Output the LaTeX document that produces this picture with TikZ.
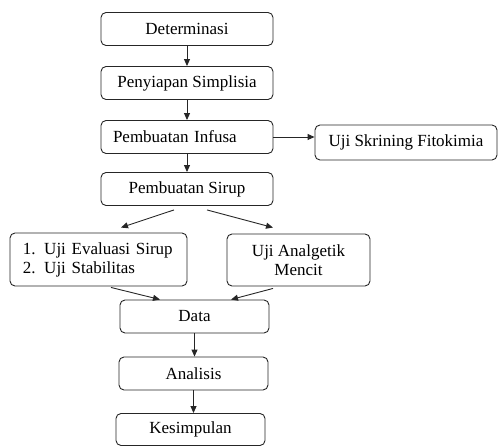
\documentclass[tikz,border=0pt]{standalone}
\usepackage{fontspec}
\setmainfont{Liberation Serif}
\usetikzlibrary{arrows.meta, positioning}
\tikzset{
    x=1pt, y=-1pt, % pixel-like units, y grows downwards
    box/.style={draw=black!85, line width=0.9pt, rounded corners=5pt, inner sep=0pt,
        minimum height=33pt, font=\fontsize{17}{19}\selectfont}, % every process box
    arr/.style={-{Triangle[length=7pt,width=6pt]}, line width=0.9pt, draw=black!85}, % every arrow
    }
\begin{document}
\begin{tikzpicture}
\useasboundingbox (0,0) rectangle (498,446);

\node[box, minimum width=172pt] (det) at (187,29) {Determinasi};
\node[box, minimum width=172pt] (pen) at (187,83) {Penyiapan Simplisia};
\node[box, minimum width=172pt, inner xsep=12pt, text width=148pt, align=left] (inf) at (187,137) {Pembuatan Infusa};
\node[box, minimum width=182pt, minimum height=35pt] (skr) at (406,142.5) {Uji Skrining Fitokimia};
\node[box, minimum width=172pt] (sir) at (187,189) {Pembuatan Sirup};
\node[box, minimum width=177pt, minimum height=53pt, inner xsep=13pt, text width=151pt, align=left] (eva) at (98.5,259.5) {1.\enspace Uji Evaluasi Sirup\\2.\enspace Uji Stabilitas};
\node[box, minimum width=143pt, minimum height=52pt, align=center] (ana) at (298.5,260) {Uji Analgetik\\Mencit};
\node[box, minimum width=149pt] (dat) at (194.5,316.5) {Data};
\node[box, minimum width=149pt] (als) at (193.5,373.5) {Analisis};
\node[box, minimum width=149pt, minimum height=32pt] (kes) at (190.5,429.5) {Kesimpulan};

\draw[arr] (det.south) -- (pen.north);
\draw[arr] (pen.south) -- (inf.north);
\draw[arr] (inf.east) -- (inf.east -| skr.west);
\draw[arr] (inf.south) -- (sir.north);
\draw[arr] ([xshift=-13pt,yshift=-4pt]sir.south) -- ([xshift=22.5pt,yshift=5pt]eva.north);
\draw[arr] ([xshift=20pt,yshift=-4pt]sir.south) -- ([xshift=-25.5pt,yshift=6pt]ana.north);
\draw[arr] ([xshift=12.5pt,yshift=-1pt]eva.south) -- ([xshift=-34.5pt]dat.north);
\draw[arr] ([xshift=-25.5pt,yshift=-2pt]ana.south) -- ([xshift=36.5pt]dat.north);
\draw[arr] (dat.south) -- (dat.south |- als.north);
\draw[arr] (als.south) -- (als.south |- kes.north);

\end{tikzpicture}
\end{document}
